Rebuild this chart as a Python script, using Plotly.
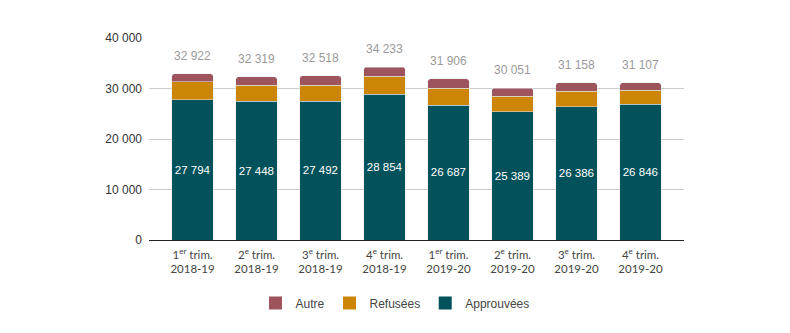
import plotly.graph_objects as go

categories = ["1<sup>er</sup> trim.<br>2018-19", "2<sup>e</sup> trim.<br>2018-19",
              "3<sup>e</sup> trim.<br>2018-19", "4<sup>e</sup> trim.<br>2018-19",
              "1<sup>er</sup> trim.<br>2019-20", "2<sup>e</sup> trim.<br>2019-20",
              "3<sup>e</sup> trim.<br>2019-20", "4<sup>e</sup> trim.<br>2019-20"]
approuvees = [27794, 27448, 27492, 28854, 26687, 25389, 26386, 26846]
totals = [32922, 32319, 32518, 34233, 31906, 30051, 31158, 31107]
refusees = [3500, 3245, 3200, 3620, 3412, 3126, 3119, 2857]
autre = [t - a - r for t, a, r in zip(totals, approuvees, refusees)]

C_APP = "#02525B"
C_REF = "#CD8508"
C_AUT = "#9E545C"

x = list(range(len(categories)))

fig = go.Figure()
fig.add_trace(go.Bar(x=x, y=approuvees, name="Approuvées", marker_color=C_APP,
                     text=[f"{v:,}".replace(",", " ") for v in approuvees],
                     textposition="inside", insidetextanchor="middle", textangle=0,
                     textfont=dict(color="white", size=12, family="Liberation Sans, Arial"),
                     width=0.65, showlegend=False))
fig.add_trace(go.Bar(x=x, y=refusees, name="Refusées", marker_color=C_REF, width=0.65,
                     showlegend=False))
fig.add_trace(go.Bar(x=x, y=autre, name="Autre", marker_color=C_AUT, width=0.65,
                     showlegend=False))

# legend entries with square swatches
for name, col in [("Approuvées", C_APP), ("Refusées", C_REF), ("Autre", C_AUT)]:
    fig.add_trace(go.Scatter(x=[None], y=[None], mode="markers", name=name,
                             marker=dict(symbol="square", size=13, color=col)))

for xi, t in zip(x, totals):
    fig.add_annotation(x=xi, y=t, text=f"{t:,}".replace(",", " "), showarrow=False,
                       yanchor="bottom", yshift=9,
                       font=dict(size=12, color="#9a9a9a", family="Liberation Sans, Arial"))

fig.update_layout(
    width=790, height=333,
    barmode="stack", barcornerradius=3,
    separators=", ",
    plot_bgcolor="white", paper_bgcolor="white",
    margin=dict(l=149, r=106, t=38, b=93),
    font=dict(family="Liberation Sans, Arial", size=12, color="#444"),
    showlegend=True,
    legend=dict(orientation="h", traceorder="reversed", xref="container", yref="container",
                x=0.5, xanchor="center", y=0.09, yanchor="middle",
                font=dict(size=12, color="#444"), itemwidth=30),
    xaxis=dict(tickmode="array", tickvals=x, ticktext=categories, range=[-0.68, 7.68],
               showgrid=False, ticks="", showline=False, ticklabelstandoff=6,
               tickfont=dict(family="Lato", size=11.5, color="#444")),
    yaxis=dict(range=[0, 40000], dtick=10000, tickformat=",d", gridcolor="#cccccc",
               zeroline=True, zerolinecolor="#222", zerolinewidth=1, ticks="",
               tickfont=dict(size=12, color="#333"), ticklabelstandoff=6),
)

fig.write_html("out.html")
